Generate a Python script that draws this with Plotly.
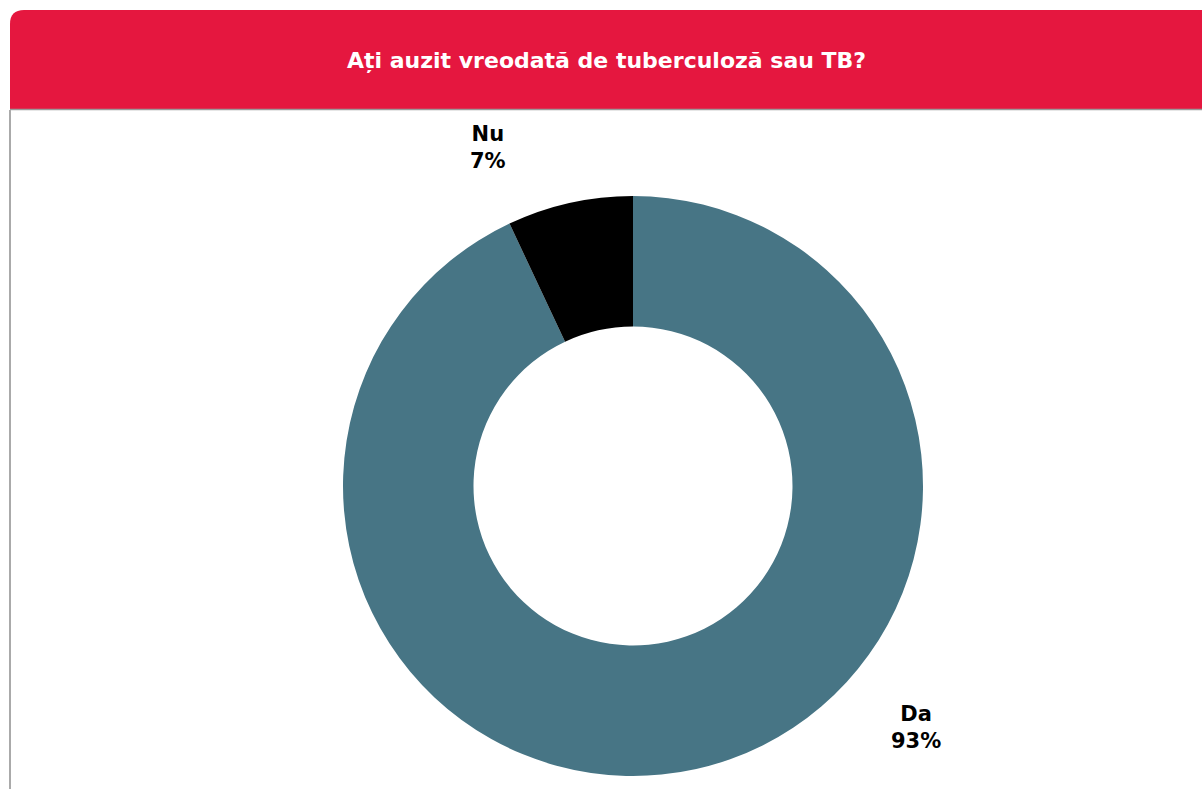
import plotly.graph_objects as go

labels = ["Da", "Nu"]
values = [93, 7]
colors = ["#477585", "#000000"]
title_text = "Ați auzit vreodată de tuberculoză sau TB?"

W, H = 1202, 789


def px(x):
    return x / W


def py(y):
    return 1 - y / H


fig = go.Figure()
fig.add_trace(go.Pie(
    labels=labels,
    values=values,
    hole=0.55,
    sort=False,
    direction="clockwise",
    rotation=0,
    marker=dict(colors=colors, line=dict(width=0)),
    textinfo="none",
    hoverinfo="label+percent",
    showlegend=False,
    domain=dict(x=[px(343), px(923)], y=[py(776), py(196)]),
))

# header with rounded top-left corner
r = 14
path = (
    f"M {px(10)},{py(110)} L {px(10)},{py(10 + r)} "
    f"Q {px(10)},{py(10)} {px(10 + r)},{py(10)} "
    f"L {px(1202)},{py(10)} L {px(1202)},{py(110)} Z"
)
shapes = [
    dict(type="path", xref="paper", yref="paper", path=path,
         fillcolor="#E5173F", line=dict(width=0), layer="below"),
    dict(type="line", xref="paper", yref="paper", x0=px(10), x1=px(1202),
         y0=py(109.5), y1=py(109.5), line=dict(color="#9a9a9a", width=1.5)),
    dict(type="line", xref="paper", yref="paper", x0=px(10), x1=px(10),
         y0=py(110), y1=py(789), line=dict(color="#aaaaaa", width=2)),
]

total = sum(values)
FONT = "DejaVu Sans"
annotations = [
    dict(text=f"<b>{title_text}</b>", x=px(606), y=py(61), xref="paper", yref="paper",
         showarrow=False, font=dict(family=FONT, size=22, color="white"),
         xanchor="center", yanchor="middle"),
    dict(text=f"<b>{labels[1]}<br>{round(values[1] / total * 100)}%</b>", x=px(488), y=py(148),
         xref="paper", yref="paper", showarrow=False,
         font=dict(family=FONT, size=21, color="black"),
         xanchor="center", yanchor="middle", align="center"),
    dict(text=f"<b>{labels[0]}<br>{round(values[0] / total * 100)}%</b>", x=px(916), y=py(727),
         xref="paper", yref="paper", showarrow=False,
         font=dict(family=FONT, size=21, color="black"),
         xanchor="center", yanchor="middle", align="center"),
]

fig.update_layout(
    width=W, height=H,
    margin=dict(l=0, r=0, t=0, b=0),
    paper_bgcolor="white",
    plot_bgcolor="white",
    shapes=shapes,
    annotations=annotations,
)

fig.write_html(
    "out.html",
    config={"displayModeBar": False},
    post_script="document.body.style.margin='0';document.body.style.overflow='hidden';",
)
